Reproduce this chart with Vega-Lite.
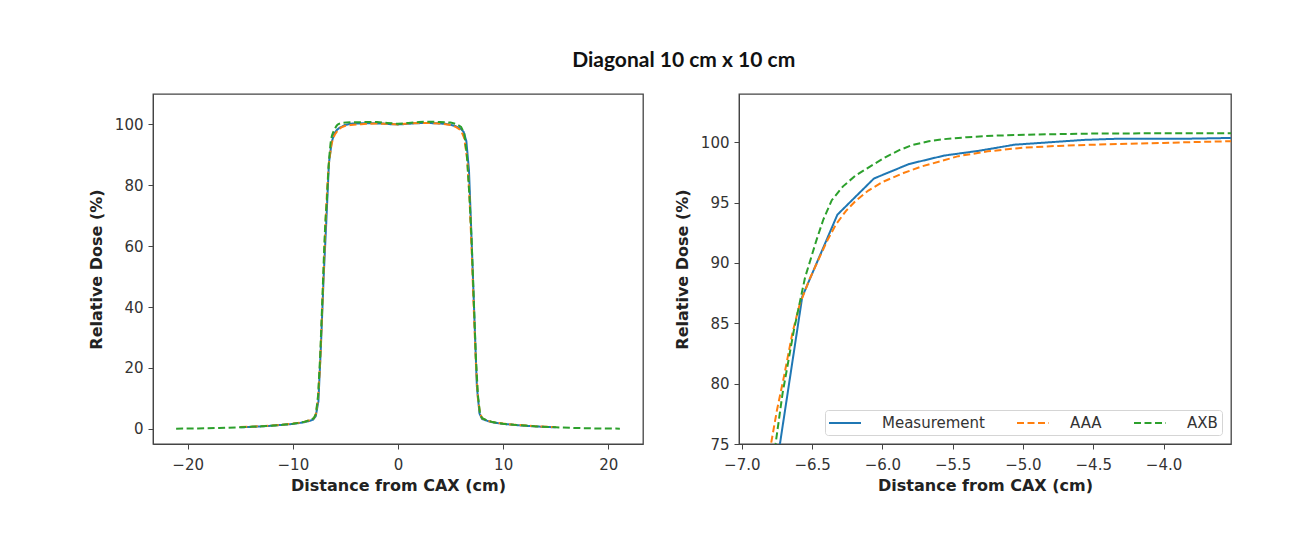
{
  "$schema": "https://vega.github.io/schema/vega-lite/v6.json",
  "padding": {"left": 87, "top": 50, "right": 5, "bottom": 5},
  "background": "white",
  "title": {"text": "Diagonal 10 cm x 10 cm", "font": "Lato", "fontSize": 21, "fontWeight": "bold", "anchor": "middle", "color": "#111", "offset": 22, "dx": 24},
  "datasets": {
    "profiles": [
      {"series": "Measurement", "x": -15.0, "dose": 0.5},
      {"series": "Measurement", "x": -14.0, "dose": 0.6},
      {"series": "Measurement", "x": -13.0, "dose": 0.8},
      {"series": "Measurement", "x": -12.0, "dose": 1.0},
      {"series": "Measurement", "x": -11.0, "dose": 1.3},
      {"series": "Measurement", "x": -10.0, "dose": 1.6},
      {"series": "Measurement", "x": -9.0, "dose": 2.1},
      {"series": "Measurement", "x": -8.5, "dose": 2.5},
      {"series": "Measurement", "x": -8.07, "dose": 3.0},
      {"series": "Measurement", "x": -7.82, "dose": 4.2},
      {"series": "Measurement", "x": -7.57, "dose": 9.0},
      {"series": "Measurement", "x": -7.32, "dose": 28.0},
      {"series": "Measurement", "x": -7.07, "dose": 50.0},
      {"series": "Measurement", "x": -6.82, "dose": 68.0},
      {"series": "Measurement", "x": -6.57, "dose": 87.2},
      {"series": "Measurement", "x": -6.32, "dose": 94.0},
      {"series": "Measurement", "x": -6.06, "dose": 97.0},
      {"series": "Measurement", "x": -5.81, "dose": 98.2},
      {"series": "Measurement", "x": -5.56, "dose": 98.9},
      {"series": "Measurement", "x": -5.31, "dose": 99.3},
      {"series": "Measurement", "x": -5.06, "dose": 99.8},
      {"series": "Measurement", "x": -4.81, "dose": 100.0},
      {"series": "Measurement", "x": -4.56, "dose": 100.2},
      {"series": "Measurement", "x": -4.31, "dose": 100.3},
      {"series": "Measurement", "x": -4.06, "dose": 100.3},
      {"series": "Measurement", "x": -3.81, "dose": 100.3},
      {"series": "Measurement", "x": -3.56, "dose": 100.35},
      {"series": "Measurement", "x": -3.31, "dose": 100.4},
      {"series": "Measurement", "x": -2.5, "dose": 100.4},
      {"series": "Measurement", "x": -1.5, "dose": 100.3},
      {"series": "Measurement", "x": -0.75, "dose": 100.1},
      {"series": "Measurement", "x": 0.0, "dose": 100.0},
      {"series": "Measurement", "x": 0.75, "dose": 100.15},
      {"series": "Measurement", "x": 1.5, "dose": 100.35},
      {"series": "Measurement", "x": 2.5, "dose": 100.5},
      {"series": "Measurement", "x": 3.5, "dose": 100.4},
      {"series": "Measurement", "x": 4.5, "dose": 100.2},
      {"series": "Measurement", "x": 5.0, "dose": 99.9},
      {"series": "Measurement", "x": 5.5, "dose": 99.4},
      {"series": "Measurement", "x": 6.0, "dose": 98.5},
      {"series": "Measurement", "x": 6.25, "dose": 97.5},
      {"series": "Measurement", "x": 6.5, "dose": 94.5},
      {"series": "Measurement", "x": 6.75, "dose": 85.0},
      {"series": "Measurement", "x": 7.0, "dose": 62.0},
      {"series": "Measurement", "x": 7.25, "dose": 38.0},
      {"series": "Measurement", "x": 7.5, "dose": 14.0},
      {"series": "Measurement", "x": 7.75, "dose": 5.0},
      {"series": "Measurement", "x": 8.0, "dose": 3.2},
      {"series": "Measurement", "x": 8.5, "dose": 2.6},
      {"series": "Measurement", "x": 9.0, "dose": 2.1},
      {"series": "Measurement", "x": 10.0, "dose": 1.6},
      {"series": "Measurement", "x": 11.0, "dose": 1.3},
      {"series": "Measurement", "x": 12.0, "dose": 1.0},
      {"series": "Measurement", "x": 13.0, "dose": 0.8},
      {"series": "Measurement", "x": 14.0, "dose": 0.6},
      {"series": "Measurement", "x": 15.0, "dose": 0.5},
      {"series": "AAA", "x": -15.0, "dose": 0.55},
      {"series": "AAA", "x": -13.0, "dose": 0.85},
      {"series": "AAA", "x": -11.0, "dose": 1.35},
      {"series": "AAA", "x": -10.0, "dose": 1.7},
      {"series": "AAA", "x": -9.0, "dose": 2.2},
      {"series": "AAA", "x": -8.5, "dose": 2.7},
      {"series": "AAA", "x": -8.0, "dose": 3.5},
      {"series": "AAA", "x": -7.8, "dose": 5.0},
      {"series": "AAA", "x": -7.6, "dose": 10.0},
      {"series": "AAA", "x": -7.4, "dose": 22.0},
      {"series": "AAA", "x": -7.2, "dose": 40.0},
      {"series": "AAA", "x": -7.0, "dose": 58.0},
      {"series": "AAA", "x": -6.9, "dose": 67.0},
      {"series": "AAA", "x": -6.8, "dose": 74.5},
      {"series": "AAA", "x": -6.75, "dose": 77.8},
      {"series": "AAA", "x": -6.7, "dose": 80.6},
      {"series": "AAA", "x": -6.64, "dose": 84.2},
      {"series": "AAA", "x": -6.59, "dose": 86.5},
      {"series": "AAA", "x": -6.52, "dose": 88.6},
      {"series": "AAA", "x": -6.45, "dose": 90.4},
      {"series": "AAA", "x": -6.39, "dose": 91.9},
      {"series": "AAA", "x": -6.33, "dose": 93.2},
      {"series": "AAA", "x": -6.26, "dose": 94.3},
      {"series": "AAA", "x": -6.19, "dose": 95.15},
      {"series": "AAA", "x": -6.1, "dose": 96.0},
      {"series": "AAA", "x": -6.0, "dose": 96.7},
      {"series": "AAA", "x": -5.85, "dose": 97.45},
      {"series": "AAA", "x": -5.72, "dose": 98.0},
      {"series": "AAA", "x": -5.58, "dose": 98.45},
      {"series": "AAA", "x": -5.46, "dose": 98.85},
      {"series": "AAA", "x": -5.25, "dose": 99.25},
      {"series": "AAA", "x": -5.0, "dose": 99.55},
      {"series": "AAA", "x": -4.75, "dose": 99.7},
      {"series": "AAA", "x": -4.5, "dose": 99.8},
      {"series": "AAA", "x": -4.0, "dose": 99.95},
      {"series": "AAA", "x": -3.5, "dose": 100.1},
      {"series": "AAA", "x": -3.0, "dose": 100.2},
      {"series": "AAA", "x": -2.0, "dose": 100.3},
      {"series": "AAA", "x": -1.0, "dose": 100.2},
      {"series": "AAA", "x": 0.0, "dose": 100.0},
      {"series": "AAA", "x": 1.0, "dose": 100.3},
      {"series": "AAA", "x": 2.0, "dose": 100.5},
      {"series": "AAA", "x": 3.0, "dose": 100.5},
      {"series": "AAA", "x": 4.0, "dose": 100.3},
      {"series": "AAA", "x": 5.0, "dose": 99.8},
      {"series": "AAA", "x": 5.5, "dose": 99.2},
      {"series": "AAA", "x": 6.0, "dose": 98.0},
      {"series": "AAA", "x": 6.3, "dose": 95.5},
      {"series": "AAA", "x": 6.6, "dose": 88.0},
      {"series": "AAA", "x": 6.8, "dose": 76.0},
      {"series": "AAA", "x": 7.0, "dose": 59.0},
      {"series": "AAA", "x": 7.2, "dose": 40.0},
      {"series": "AAA", "x": 7.4, "dose": 22.0},
      {"series": "AAA", "x": 7.6, "dose": 10.0},
      {"series": "AAA", "x": 7.8, "dose": 5.0},
      {"series": "AAA", "x": 8.0, "dose": 3.5},
      {"series": "AAA", "x": 8.5, "dose": 2.7},
      {"series": "AAA", "x": 9.0, "dose": 2.2},
      {"series": "AAA", "x": 10.0, "dose": 1.7},
      {"series": "AAA", "x": 11.0, "dose": 1.35},
      {"series": "AAA", "x": 13.0, "dose": 0.85},
      {"series": "AAA", "x": 15.0, "dose": 0.55},
      {"series": "AXB", "x": -21.1, "dose": 0.05},
      {"series": "AXB", "x": -19.0, "dose": 0.1},
      {"series": "AXB", "x": -17.0, "dose": 0.25},
      {"series": "AXB", "x": -15.0, "dose": 0.5},
      {"series": "AXB", "x": -13.0, "dose": 0.8},
      {"series": "AXB", "x": -11.0, "dose": 1.3},
      {"series": "AXB", "x": -10.0, "dose": 1.65},
      {"series": "AXB", "x": -9.0, "dose": 2.2},
      {"series": "AXB", "x": -8.5, "dose": 2.7},
      {"series": "AXB", "x": -8.0, "dose": 3.5},
      {"series": "AXB", "x": -7.8, "dose": 5.0},
      {"series": "AXB", "x": -7.6, "dose": 11.0},
      {"series": "AXB", "x": -7.4, "dose": 24.0},
      {"series": "AXB", "x": -7.2, "dose": 42.0},
      {"series": "AXB", "x": -7.0, "dose": 61.0},
      {"series": "AXB", "x": -6.9, "dose": 68.5},
      {"series": "AXB", "x": -6.8, "dose": 73.5},
      {"series": "AXB", "x": -6.76, "dose": 75.0},
      {"series": "AXB", "x": -6.71, "dose": 79.2},
      {"series": "AXB", "x": -6.63, "dose": 84.4},
      {"series": "AXB", "x": -6.55, "dose": 88.8},
      {"series": "AXB", "x": -6.47, "dose": 91.85},
      {"series": "AXB", "x": -6.42, "dose": 93.6},
      {"series": "AXB", "x": -6.36, "dose": 95.2},
      {"series": "AXB", "x": -6.28, "dose": 96.35},
      {"series": "AXB", "x": -6.19, "dose": 97.25},
      {"series": "AXB", "x": -6.08, "dose": 98.05},
      {"series": "AXB", "x": -5.98, "dose": 98.75},
      {"series": "AXB", "x": -5.88, "dose": 99.35},
      {"series": "AXB", "x": -5.78, "dose": 99.8},
      {"series": "AXB", "x": -5.67, "dose": 100.08},
      {"series": "AXB", "x": -5.57, "dose": 100.25},
      {"series": "AXB", "x": -5.4, "dose": 100.42},
      {"series": "AXB", "x": -5.2, "dose": 100.55},
      {"series": "AXB", "x": -4.9, "dose": 100.65},
      {"series": "AXB", "x": -4.5, "dose": 100.72},
      {"series": "AXB", "x": -4.0, "dose": 100.75},
      {"series": "AXB", "x": -3.5, "dose": 100.75},
      {"series": "AXB", "x": -3.0, "dose": 100.8},
      {"series": "AXB", "x": -2.0, "dose": 100.8},
      {"series": "AXB", "x": -1.0, "dose": 100.5},
      {"series": "AXB", "x": 0.0, "dose": 100.2},
      {"series": "AXB", "x": 1.0, "dose": 100.5},
      {"series": "AXB", "x": 2.0, "dose": 100.8},
      {"series": "AXB", "x": 3.0, "dose": 100.9},
      {"series": "AXB", "x": 4.0, "dose": 100.8},
      {"series": "AXB", "x": 5.0, "dose": 100.6},
      {"series": "AXB", "x": 5.5, "dose": 100.2},
      {"series": "AXB", "x": 6.0, "dose": 99.2},
      {"series": "AXB", "x": 6.3, "dose": 97.0},
      {"series": "AXB", "x": 6.55, "dose": 90.0},
      {"series": "AXB", "x": 6.8, "dose": 76.0},
      {"series": "AXB", "x": 7.0, "dose": 62.0},
      {"series": "AXB", "x": 7.2, "dose": 43.0},
      {"series": "AXB", "x": 7.4, "dose": 24.0},
      {"series": "AXB", "x": 7.6, "dose": 11.0},
      {"series": "AXB", "x": 7.8, "dose": 5.0},
      {"series": "AXB", "x": 8.0, "dose": 3.5},
      {"series": "AXB", "x": 8.5, "dose": 2.7},
      {"series": "AXB", "x": 9.0, "dose": 2.2},
      {"series": "AXB", "x": 10.0, "dose": 1.65},
      {"series": "AXB", "x": 11.0, "dose": 1.3},
      {"series": "AXB", "x": 13.0, "dose": 0.8},
      {"series": "AXB", "x": 15.0, "dose": 0.5},
      {"series": "AXB", "x": 17.0, "dose": 0.25},
      {"series": "AXB", "x": 19.0, "dose": 0.1},
      {"series": "AXB", "x": 21.1, "dose": 0.05}
    ]
  },
  "spacing": 29,
  "resolve": {
    "scale": {"color": "independent", "strokeDash": "independent"},
    "legend": {"color": "independent", "strokeDash": "independent"}
  },
  "hconcat": [
    {
      "width": 490,
      "height": 350,
      "data": {"name": "profiles"},
      "mark": {"type": "line", "strokeWidth": 2},
      "encoding": {
        "x": {"field": "x", "type": "quantitative", "title": "Distance from CAX (cm)",
              "scale": {"domain": [-23.3, 23.3], "nice": false, "zero": false},
              "axis": {"values": [-20, -10, 0, 10, 20]}},
        "y": {"field": "dose", "type": "quantitative", "title": "Relative Dose (%)",
              "scale": {"domain": [-5, 110], "nice": false, "zero": false},
              "axis": {"values": [0, 20, 40, 60, 80, 100]}},
        "color": {"field": "series", "type": "nominal", "legend": null,
                  "scale": {"domain": ["Measurement", "AAA", "AXB"], "range": ["#1f77b4", "#ff7f0e", "#2ca02c"]}},
        "strokeDash": {"field": "series", "type": "nominal", "legend": null,
                       "scale": {"domain": ["Measurement", "AAA", "AXB"], "range": [[1, 0], [7, 3.5], [7, 3.5]]}}
      }
    },
    {
      "width": 492,
      "height": 350,
      "data": {"name": "profiles"},
      "mark": {"type": "line", "strokeWidth": 2, "clip": true},
      "encoding": {
        "x": {"field": "x", "type": "quantitative", "title": "Distance from CAX (cm)",
              "scale": {"domain": [-7.02, -3.52], "nice": false, "zero": false},
              "axis": {"values": [-7, -6.5, -6, -5.5, -5, -4.5, -4], "format": ".1f"}},
        "y": {"field": "dose", "type": "quantitative", "title": "Relative Dose (%)",
              "scale": {"domain": [75, 104], "nice": false, "zero": false},
              "axis": {"values": [75, 80, 85, 90, 95, 100]}},
        "color": {"field": "series", "type": "nominal",
                  "scale": {"domain": ["Measurement", "AAA", "AXB"], "range": ["#1f77b4", "#ff7f0e", "#2ca02c"]},
                  "legend": {"title": null, "orient": "bottom-right", "direction": "horizontal", "offset": 9,
                             "fillColor": "rgba(255,255,255,0.85)", "strokeColor": "#d5d5d5", "cornerRadius": 3,
                             "padding": 4, "symbolType": "M-2,0L2,0", "symbolSize": 256, "symbolStrokeWidth": 2,
                             "symbolOffset": 7, "labelFontSize": 15, "labelColor": "#333", "labelOffset": 28, "columnPadding": 28}},
        "strokeDash": {"field": "series", "type": "nominal",
                       "scale": {"domain": ["Measurement", "AAA", "AXB"], "range": [[1, 0], [7, 3.5], [7, 3.5]]},
                       "legend": {"title": null, "orient": "bottom-right", "direction": "horizontal", "offset": 9,
                             "fillColor": "rgba(255,255,255,0.85)", "strokeColor": "#d5d5d5", "cornerRadius": 3,
                             "padding": 4, "symbolType": "M-2,0L2,0", "symbolSize": 256, "symbolStrokeWidth": 2,
                             "symbolOffset": 7, "labelFontSize": 15, "labelColor": "#333", "labelOffset": 28, "columnPadding": 28}}
      }
    }
  ],
  "config": {
    "font": "DejaVu Sans",
    "view": {"stroke": "#444", "strokeWidth": 1.3},
    "axis": {"grid": false, "labelFontSize": 15, "labelColor": "#333", "labelFont": "DejaVu Sans",
             "titleFontSize": 16, "titleFontWeight": "bold", "titleColor": "#222", "titleFont": "DejaVu Sans",
             "tickColor": "#444", "domainColor": "#444", "tickSize": 5,
             "labelFlush": false, "labelOverlap": false},
    "axisX": {"labelPadding": 8, "titlePadding": 5},
    "axisY": {"labelPadding": 5, "titlePadding": 10}
  }
}
